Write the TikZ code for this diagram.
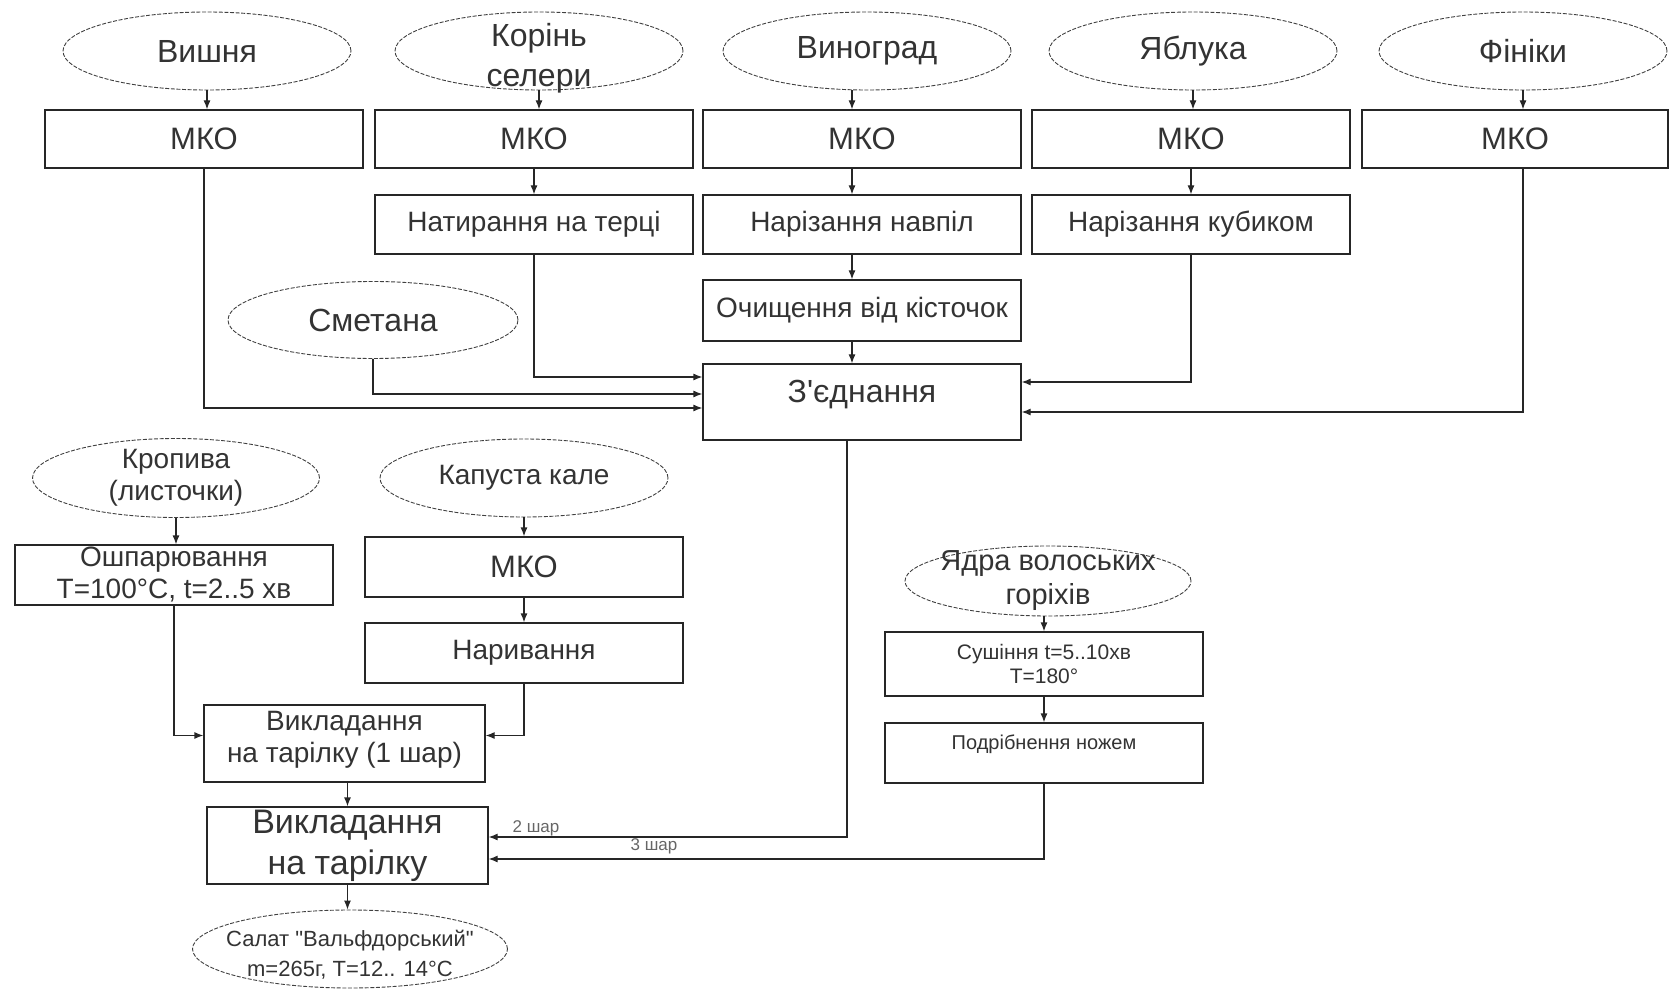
\documentclass[tikz,border=0pt]{standalone}
\usepackage{fontspec}
\setmainfont{Liberation Sans}[Ligatures=TeXOff]
\usetikzlibrary{shapes.geometric, arrows.meta, positioning}

\begin{document}
\begin{tikzpicture}[x=0.5pt, y=-0.5pt,
  every node/.style={text=black!80},
  food/.style={ellipse, draw=black!75, line width=0.45pt, dash pattern=on 2pt off 0.8pt,
               minimum width=144pt, minimum height=39pt, inner sep=-10pt, align=center},
  op/.style={rectangle, draw=black!85, line width=0.6pt, minimum width=159pt,
             minimum height=29.5pt, inner sep=0pt, align=center},
  mko/.style={op, minimum height=29pt, font=\fontsize{15.5}{18}\selectfont},
  big/.style={font=\fontsize{16}{20}\selectfont},
  mid/.style={font=\fontsize{14}{16}\selectfont},
  small/.style={font=\fontsize{10.5}{12}\selectfont},
  shar/.style={font=\fontsize{8.5}{10}\selectfont, text=black!60},
  arr/.style={draw=black!85, line width=0.6pt, -{Latex[length=4.5pt,width=3.5pt]}},
]
\useasboundingbox (0,0) rectangle (1670,989);

% сировина
\node[food, big] (vyshnia) at (207,51) {Вишня};
\node[food, big, text height=38pt, text depth=2.5pt] (selera) at (539,51) {Корінь\\селери};
\node[food, big] (vynograd) at (867,51) {Виноград};
\node[food, big] (yabluka) at (1193,51) {Яблука};
\node[food, big] (finiky) at (1523,51) {Фініки};

\node[mko] (mko1) at (204,139) {МКО};
\node[mko] (mko2) at (534,139) {МКО};
\node[mko] (mko3) at (862,139) {МКО};
\node[mko] (mko4) at (1191,139) {МКО};
\node[mko, minimum width=153pt] (mko5) at (1515,139) {МКО};

\node[op, mid] (teren) at (534,224.5) {Натирання на терці};
\node[op, mid] (navpil) at (862,224.5) {Нарізання навпіл};
\node[op, mid] (kubyk) at (1191,224.5) {Нарізання кубиком};
\node[op, mid, minimum height=30.5pt] (kist) at (862,310.5) {Очищення від кісточок};
\node[food, big, minimum width=145pt, minimum height=38.5pt] (smetana) at (373,320) {Сметана};
\node[op, big, minimum height=38pt, text height=19.5pt, text depth=18.5pt] (zyed) at (862,402) {З'єднання};

% перший шар
\node[food, mid, minimum width=143.5pt, minimum height=39.5pt] (kropyva) at (176,478) {Кропива\\(листочки)};
\node[op, mid, minimum height=30pt] (oshpar) at (174,575) {Ошпарювання\\T=100°C, t=2..5 хв};
\node[food, mid] (kale) at (524,478) {Капуста кале};
\node[mko, minimum height=30pt] (mko6) at (524,567) {МКО};
\node[op, mid, minimum height=30pt] (naryv) at (524,653) {Наривання};
\node[op, mid, minimum width=140.5pt, minimum height=38.5pt, text height=27.5pt, text depth=9pt] (vykl1) at (344.5,743.5) {Викладання\\на тарілку (1 шар)};
\node[op, font=\fontsize{17}{20.5}\selectfont, minimum width=140.5pt, minimum height=38.5pt] (vykl) at (347.5,845.5) {Викладання\\на тарілку};
\node[food, font=\fontsize{11}{15}\selectfont, minimum width=157.5pt, minimum height=39pt, text height=29pt, text depth=1.5pt] (salat) at (350,949) {Салат "Вальфдорський"\\m=265г, T=12.. 14°C};

% горіхи
\node[food, font=\fontsize{14.5}{17}\selectfont, minimum width=143pt, minimum height=35pt] (gorihy) at (1048,581) {Ядра волоських\\горіхів};
\node[op, small, minimum height=32pt] (sush) at (1044,664) {Сушіння t=5..10хв\\T=180°};
\node[op, font=\fontsize{10}{12}\selectfont, minimum height=30pt, text height=13pt, text depth=17pt] (podr) at (1044,753) {Подрібнення ножем};

\node[shar] (shar2) at (536,828) {2 шар};
\node[shar] (shar3) at (654,846) {3 шар};

\draw[arr] (vyshnia) -- (vyshnia |- mko1.north);
\draw[arr] (selera) -- (selera |- mko2.north);
\draw[arr] ([xshift=-7.5pt]vynograd.south) -- ([xshift=-7.5pt]vynograd.south |- mko3.north);
\draw[arr] (yabluka) -- (yabluka |- mko4.north);
\draw[arr] (finiky) -- (finiky |- mko5.north);

\draw[arr] (mko2) -- (teren);
\draw[arr] ([xshift=-5pt]mko3.south) -- ([xshift=-5pt]navpil.north);
\draw[arr] ([xshift=-5pt]navpil.south) -- ([xshift=-5pt]kist.north);
\draw[arr] ([xshift=-5pt]kist.south) -- ([xshift=-5pt]zyed.north);
\draw[arr] (mko4) -- (kubyk);

\draw[arr] (teren.south) |- ([yshift=12.5pt]zyed.west);
\draw[arr] (smetana.south) |- ([yshift=4pt]zyed.west);
\draw[arr] (mko1.south) |- ([yshift=-3pt]zyed.west);
\draw[arr] (kubyk.south) |- ([yshift=10pt]zyed.east);
\draw[arr] (finiky |- mko5.south) |- ([yshift=-5pt]zyed.east);
%
\draw[arr] (kropyva) -- (kropyva |- oshpar.north);
\draw[arr] (kale) -- (kale |- mko6.north);
\draw[arr] (mko6) -- (naryv);
\draw[arr] (oshpar.south) |- ([yshift=4pt]vykl1.west);
\draw[arr] (naryv.south) |- ([yshift=4pt]vykl1.east);
\draw[arr] (vykl1.south -| vykl.north) -- (vykl.north);
\draw[arr] (vykl) -- (vykl |- salat.north);
%
\draw[arr] ([xshift=-7.5pt]zyed.south) |- ([yshift=4.25pt]vykl.east);
\draw[arr] (sush.north |- gorihy.south) -- (sush.north);
\draw[arr] (sush) -- (podr);
\draw[arr] (podr.south) |- ([yshift=-6.75pt]vykl.east);
\end{tikzpicture}
\end{document}
